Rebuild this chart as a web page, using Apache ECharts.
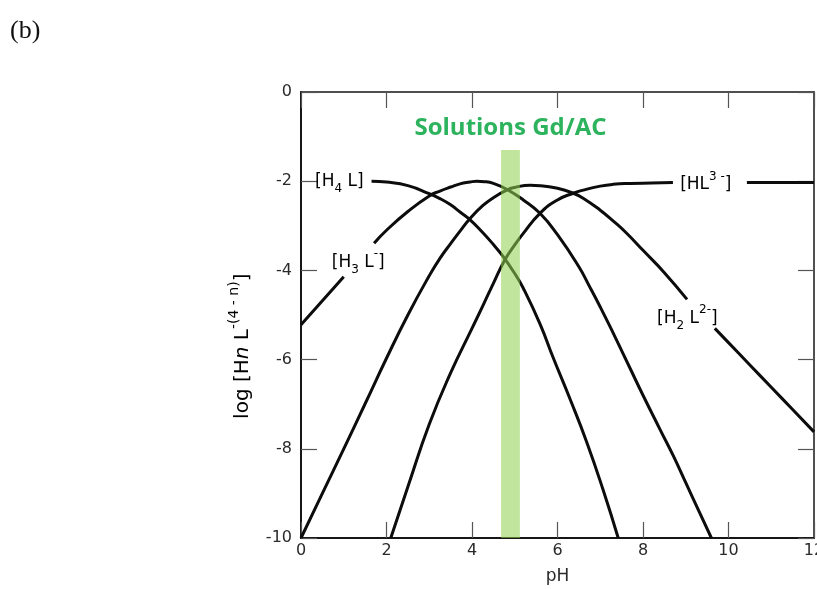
<!DOCTYPE html>
<html>
<head>
<meta charset="utf-8">
<script src="https://cdn.jsdelivr.net/npm/echarts@6/dist/echarts.min.js"></script>
<style>
html,body{margin:0;padding:0;background:#fff;}
#c{width:817px;height:589px;}
</style>
</head>
<body>
<div id="c"></div>
<script>
// ---- tick labels ----
const xTickLabels = [0, 2, 4, 6, 8, 10, 12];
const yTickLabels = [0, -2, -4, -6, -8, -10];

// ---- series values (pH, log concentration); null = gap under a label ----
const h4lPH  = [1.65, 2.0, 2.5, 3.0, 3.25, 3.5, 3.72, 3.95, 4.25, 4.5, 4.73, 5.0, 5.2, 5.59, 5.9, 6.3, 6.68, 7.07, 7.42];
const h4lLog = [-2.00, -2.02, -2.10, -2.28, -2.39, -2.53, -2.69, -2.86, -3.15, -3.42, -3.69, -4.07, -4.40, -5.20, -5.96, -6.90, -7.84, -8.93, -10.0];

const h3lPH  = [0, 0.5, 1.0, 1.35, 1.71, 2.0, 2.5, 3.0, 3.25, 3.5, 3.72, 3.95, 4.11, 4.3, 4.5, 4.81, 5.2, 5.59, 6.0, 6.5, 6.76, 7.0, 7.27, 7.7, 8.0, 8.4, 8.71, 9.0, 9.3, 9.6];
const h3lLog = [-5.22, -4.68, -4.14, null, -3.39, -3.10, -2.68, -2.33, -2.22, -2.13, -2.06, -2.02, -2.00, -2.01, -2.05, -2.18, -2.42, -2.72, -3.20, -3.92, -4.38, -4.82, -5.34, -6.20, -6.80, -7.57, -8.16, -8.76, -9.38, -10.0];

const h2lPH  = [0, 0.5, 1.0, 1.5, 2.0, 2.5, 3.0, 3.25, 3.5, 3.72, 3.95, 4.25, 4.5, 4.81, 5.0, 5.36, 5.6, 6.0, 6.37, 6.6, 7.0, 7.3, 7.6, 8.0, 8.5, 9.03, 9.35, 9.68, 10.0, 10.5, 11.0, 11.5, 12.0];
const h2lLog = [-10.0, -9.0, -8.0, -6.99, -5.97, -5.0, -4.12, -3.73, -3.40, -3.12, -2.84, -2.55, -2.37, -2.20, -2.14, -2.09, -2.10, -2.16, -2.27, -2.38, -2.65, -2.89, -3.15, -3.55, -4.05, -4.65, null, -5.30, -5.62, -6.12, -6.62, -7.12, -7.62];

const hlPH   = [2.1, 2.5, 3.0, 3.5, 4.0, 4.25, 4.5, 4.77, 5.0, 5.2, 5.59, 6.0, 6.37, 6.6, 7.0, 7.3, 7.7, 8.2, 8.7, 9.5, 10.43, 11.2, 12.0];
const hlLog  = [-10.0, -8.85, -7.45, -6.30, -5.30, -4.80, -4.29, -3.76, -3.43, -3.17, -2.72, -2.42, -2.27, -2.20, -2.11, -2.07, -2.05, -2.04, -2.03, null, -2.03, -2.03, -2.03];

// highlighted pH range of the Gd/AC solutions
const bandPH  = [4.68, 5.12];
const bandTop = -1.3;

// ---- build chart ----
function pairs(xs, ys) { return xs.map((x, i) => [x, ys[i] === null ? '-' : ys[i]]); }

const chart = echarts.init(document.getElementById('c'), null, {renderer: 'canvas'});
const axisColor = '#161616';
const tickFont = {color: '#2a2a2a', fontSize: 16, fontFamily: 'DejaVu Sans'};
const xMin = xTickLabels[0], xMax = xTickLabels[xTickLabels.length - 1], xInt = xTickLabels[1] - xTickLabels[0];
const yMax = yTickLabels[0], yMin = yTickLabels[yTickLabels.length - 1], yInt = yTickLabels[0] - yTickLabels[1];

const curveStyle = {color: '#0c0c0c', width: 3};
function curve(xs, ys) {
  return {type: 'line', data: pairs(xs, ys), symbol: 'none', showSymbol: false, smooth: 0.5,
          connectNulls: false, lineStyle: curveStyle, clip: true, silent: true, z: 2};
}

const chemRich = {
  b:   {fontSize: 17, fontFamily: 'DejaVu Sans', color: '#1e1e1e', lineHeight: 28},
  sub: {fontSize: 12, fontFamily: 'DejaVu Sans', color: '#1e1e1e', lineHeight: 12, verticalAlign: 'bottom'},
  sup: {fontSize: 12, fontFamily: 'DejaVu Sans', color: '#1e1e1e', lineHeight: 12, verticalAlign: 'top'}
};
const nameRich = {
  b:   {fontSize: 20, fontFamily: 'DejaVu Sans', color: '#1e1e1e', lineHeight: 32},
  i:   {fontSize: 20, fontFamily: 'DejaVu Sans', fontStyle: 'italic', color: '#1e1e1e', lineHeight: 32},
  sup: {fontSize: 14, fontFamily: 'DejaVu Sans', color: '#1e1e1e', lineHeight: 14, verticalAlign: 'top'}
};

const option = {
  animation: false,
  backgroundColor: '#ffffff',
  grid: {left: 301, top: 92, width: 513, height: 446, containLabel: false, outerBoundsMode: 'none'},
  xAxis: [
    {type: 'value', min: xMin, max: xMax, interval: xInt, position: 'bottom',
     axisLine: {show: true, onZero: false, lineStyle: {color: axisColor, width: 2}},
     axisTick: {show: true, inside: true, length: 16, lineStyle: {color: '#555', width: 1.2}},
     axisLabel: Object.assign({margin: 5}, tickFont),
     splitLine: {show: false},
     name: 'pH', nameLocation: 'middle', nameGap: 30,
     nameTextStyle: {color: '#2a2a2a', fontSize: 17, fontFamily: 'DejaVu Sans'}},
    {type: 'value', min: xMin, max: xMax, interval: xInt, position: 'top',
     axisLine: {show: true, onZero: false, lineStyle: {color: axisColor, width: 1.5}},
     axisTick: {show: true, inside: true, length: 16, lineStyle: {color: '#555', width: 1.2}},
     axisLabel: {show: false}, splitLine: {show: false}}
  ],
  yAxis: [
    {type: 'value', min: yMin, max: yMax, interval: yInt, position: 'left',
     axisLine: {show: true, onZero: false, lineStyle: {color: axisColor, width: 2}},
     axisTick: {show: true, inside: true, length: 16, lineStyle: {color: '#555', width: 1.2}},
     axisLabel: Object.assign({margin: 9}, tickFont),
     splitLine: {show: false}},
    {type: 'value', min: yMin, max: yMax, interval: yInt, position: 'right',
     axisLine: {show: true, onZero: false, lineStyle: {color: axisColor, width: 1.5}},
     axisTick: {show: true, inside: true, length: 16, lineStyle: {color: '#555', width: 1.2}},
     axisLabel: {show: false}, splitLine: {show: false}}
  ],
  series: [
    curve(h4lPH, h4lLog),
    curve(h3lPH, h3lLog),
    curve(h2lPH, h2lLog),
    curve(hlPH, hlLog),
    {type: 'line', data: bandPH.map(x => [x, bandTop]), symbol: 'none', showSymbol: false,
     lineStyle: {width: 0, opacity: 0},
     areaStyle: {color: '#92d050', opacity: 0.56, origin: 'start'}, z: 5, silent: true}
  ]
};
chart.setOption(option);

// ---- annotations placed in data coordinates ----
function px(pt) { return chart.convertToPixel({xAxisIndex: 0, yAxisIndex: 0}, pt); }
const speciesLabels = [
  {at: [0.33, -2.0],  text: '{b|[H}{sub|4}{b| L]}'},
  {at: [0.72, -3.82], text: '{b|[H}{sub|3}{b| L}{sup|-}{b|]}'},
  {at: [8.87, -2.08], text: '{b|[HL}{sup|3 -}{b|]}'},
  {at: [8.33, -5.07], text: '{b|[H}{sub|2}{b| L}{sup|2-}{b|]}'}
];
const graphics = speciesLabels.map(l => {
  const p = px(l.at);
  return {type: 'text', x: p[0], y: p[1], z: 10, silent: true,
          style: {text: l.text, rich: chemRich, align: 'left', verticalAlign: 'middle'}};
});
const tp = px([4.9, -0.8]);
graphics.push({type: 'text', x: tp[0], y: tp[1], z: 10, silent: true,
  style: {text: 'Solutions Gd/AC', fill: '#2db35d', fontSize: 24, fontWeight: 'bold',
          fontFamily: 'Open Sans', align: 'center', verticalAlign: 'middle'}});
// y-axis title, rotated, centred slightly below the middle of the axis as in the original
const yTitleAt = px([0, -5.7]);
graphics.push({type: 'text', x: yTitleAt[0] - 58, y: yTitleAt[1], rotation: Math.PI / 2, z: 10, silent: true,
  style: {text: '{b|log [H}{i|n}{b| L}{sup|-(4 - n)}{b|]}', rich: nameRich, align: 'center', verticalAlign: 'middle'}});
graphics.push({type: 'text', left: 10, top: 18, silent: true,
  style: {text: '(b)', fill: '#111', fontSize: 26, fontFamily: 'Liberation Serif'}});
chart.setOption({graphic: graphics});
</script>
</body>
</html>
